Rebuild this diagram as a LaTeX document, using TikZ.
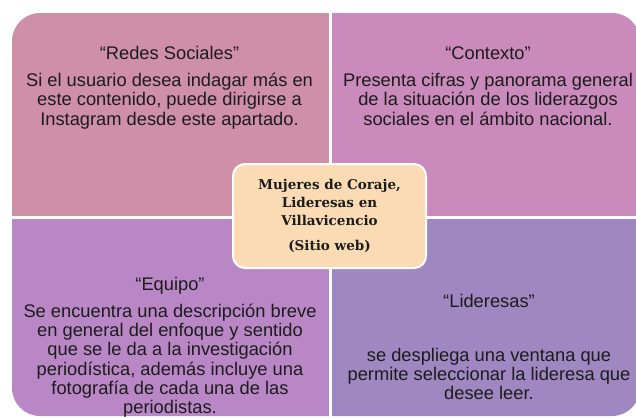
\documentclass[tikz,border=0pt]{standalone}
\usepackage{fontspec}
\setmainfont{Liberation Sans}
\newfontfamily\hubfont{DejaVu Serif}
\usetikzlibrary{positioning}

\definecolor{redescol}{HTML}{CF8FA6}
\definecolor{contextocol}{HTML}{CA8ABC}
\definecolor{equipocol}{HTML}{B987C6}
\definecolor{lideresascol}{HTML}{9F87C1}
\definecolor{hubcol}{HTML}{FADBB3}
\definecolor{ink}{HTML}{1C1C1C}

\begin{document}
\begin{tikzpicture}[x=1pt, y=-1pt,
    quad/.style={rectangle, inner sep=0pt, anchor=north west},
    txt/.style={align=center, inner sep=0pt, anchor=base, text=ink,
      font=\fontsize{18.3}{19.2}\selectfont},
    hub/.style={rectangle, rounded corners=12pt, draw=white, line width=2pt,
      fill=hubcol, minimum width=193pt, minimum height=104pt, align=center,
      text=ink, font=\hubfont\bfseries\fontsize{13.5}{18}\selectfont}]
  \useasboundingbox (0,0) rectangle (636,417);

  % four quadrants, outer corners rounded by the clip
  \begin{scope}
    \clip[rounded corners=28pt] (12,13) rectangle (640,416);
    \node[quad, fill=redescol, minimum width=317pt, minimum height=203pt] (redes) at (12,13) {};
    \node[quad, fill=contextocol, minimum width=308pt, minimum height=203pt] (contexto) at (332,13) {};
    \node[quad, fill=equipocol, minimum width=317pt, minimum height=198pt] (equipo) at (12,219) {};
    \node[quad, fill=lideresascol, minimum width=308pt, minimum height=198pt] (lideresas) at (332,219) {};
  \end{scope}

  % texts (placed at the baseline of their last line)
  \node[txt] (redestxt) at (169.5,125) {“Redes Sociales”\\[8.3pt]
    Si el usuario desea indagar más en\\
    este contenido, puede dirigirse a\\
    Instagram desde este apartado.};
  \node[txt] (contextotxt) at (488,125) {“Contexto”\\[8.3pt]
    Presenta cifras y panorama general\\
    de la situación de los liderazgos\\
    sociales en el ámbito nacional.};
  \node[txt] (equipotxt) at (170,413.5) {“Equipo”\\[8.3pt]
    Se encuentra una descripción breve\\
    en general del enfoque y sentido\\
    que se le da a la investigación\\
    periodística, además incluye una\\
    fotografía de cada una de las\\
    periodistas.};
  \node[txt] (lideresastxt) at (489,399.5) {“Lideresas”\\[34.1pt]
    se despliega una ventana que\\
    permite seleccionar la lideresa que\\
    desee leer.};

  \node[hub] (hub) at (329.5,216) {Mujeres de Coraje,\\
    Lideresas en\\
    Villavicencio\\[7pt]
    (Sitio web)};
\end{tikzpicture}
\end{document}
